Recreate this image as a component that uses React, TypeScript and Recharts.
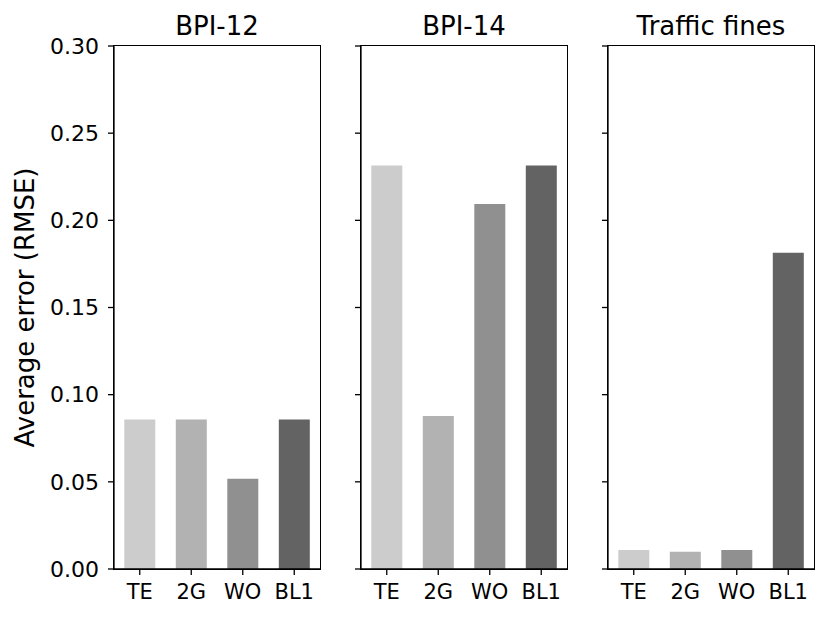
import React from 'react';
import { BarChart, Bar, XAxis, YAxis, Cell, Label } from 'recharts';

const categories = ['TE', '2G', 'WO', 'BL1'];
const barColors = ['#cccccc', '#b2b2b2', '#909090', '#636363'];
const bpi12Values = [0.0857, 0.0857, 0.0517, 0.0857];
const bpi14Values = [0.2314, 0.0878, 0.2094, 0.2314];
const trafficValues = [0.0109, 0.0099, 0.0109, 0.1814];
const yTicks = [0, 0.05, 0.1, 0.15, 0.2, 0.25, 0.3];
const panelTitles = ['BPI-12', 'BPI-14', 'Traffic fines'];
const yLabel = 'Average error (RMSE)';

const FONT = '"DejaVu Sans", sans-serif';
const TOP = 46;
const PLOT_H = 523;
const PLOT_W = 206;

const makeData = (vals: number[]) => categories.map((c, i) => ({ name: c, value: vals[i] }));

type PanelProps = {
  title: string;
  values: number[];
  left: number;
  width: number;
  yAxisWidth: number;
  showYLabels: boolean;
};

const Panel = ({ title, values, left, width, yAxisWidth, showYLabels }: PanelProps) => {
  const data = makeData(values);
  const plotLeft = yAxisWidth;
  return (
    <div style={{ position: 'absolute', left, top: 0, width, height: 618 }}>
      <BarChart
        width={width}
        height={618}
        data={data}
        margin={{ top: TOP, right: width - yAxisWidth - PLOT_W, left: 0, bottom: 9 }}
        barCategoryGap="20%"
      >
        <XAxis
          dataKey="name"
          height={40}
          tickSize={6}
          tickMargin={9}
          interval={0}
          axisLine={{ stroke: '#000', strokeWidth: 1.3 }}
          tickLine={{ stroke: '#000', strokeWidth: 1.3 }}
          tick={{ fill: '#000', fontSize: 21, fontFamily: FONT }}
        />
        <YAxis
          width={yAxisWidth}
          domain={[0, 0.3]}
          ticks={yTicks}
          type="number"
          tickSize={6}
          tickMargin={9}
          interval={0}
          tickFormatter={(v: number) => (showYLabels ? v.toFixed(2) : '')}
          axisLine={{ stroke: '#000', strokeWidth: 1.3 }}
          tickLine={{ stroke: '#000', strokeWidth: 1.3 }}
          tick={{ fill: '#000', fontSize: 22, fontFamily: FONT }}
        >
          {showYLabels ? (
            <Label
              value={yLabel}
              angle={-90}
              position="insideLeft"
              offset={25}
              style={{ fill: '#000', fontSize: 26, fontFamily: FONT, textAnchor: 'middle' }}
            />
          ) : null}
        </YAxis>
        <Bar dataKey="value" isAnimationActive={false}>
          {data.map((d, i) => (
            <Cell key={d.name} fill={barColors[i]} />
          ))}
        </Bar>
      </BarChart>
      <div
        style={{
          position: 'absolute',
          left: plotLeft - 0.65,
          top: TOP - 0.65,
          width: PLOT_W + 1.3,
          height: PLOT_H + 1.3,
          border: '1.3px solid #000',
          boxSizing: 'border-box',
          pointerEvents: 'none',
        }}
      />
      <div
        style={{
          position: 'absolute',
          left: plotLeft - 50,
          top: 13,
          width: PLOT_W + 100,
          textAlign: 'center',
          fontSize: 26,
          lineHeight: '26px',
          fontFamily: FONT,
          color: '#000',
          whiteSpace: 'nowrap',
        }}
      >
        {title}
      </div>
    </div>
  );
};

export default function App() {
  return (
    <div style={{ position: 'absolute', left: 0, top: 0, width: 830, height: 618, background: '#fff', fontFamily: FONT }}>
      <Panel title={panelTitles[0]} values={bpi12Values} left={0} width={330} yAxisWidth={114} showYLabels={true} />
      <Panel title={panelTitles[1]} values={bpi14Values} left={330} width={247} yAxisWidth={31} showYLabels={false} />
      <Panel title={panelTitles[2]} values={trafficValues} left={577} width={247} yAxisWidth={31} showYLabels={false} />
    </div>
  );
}
